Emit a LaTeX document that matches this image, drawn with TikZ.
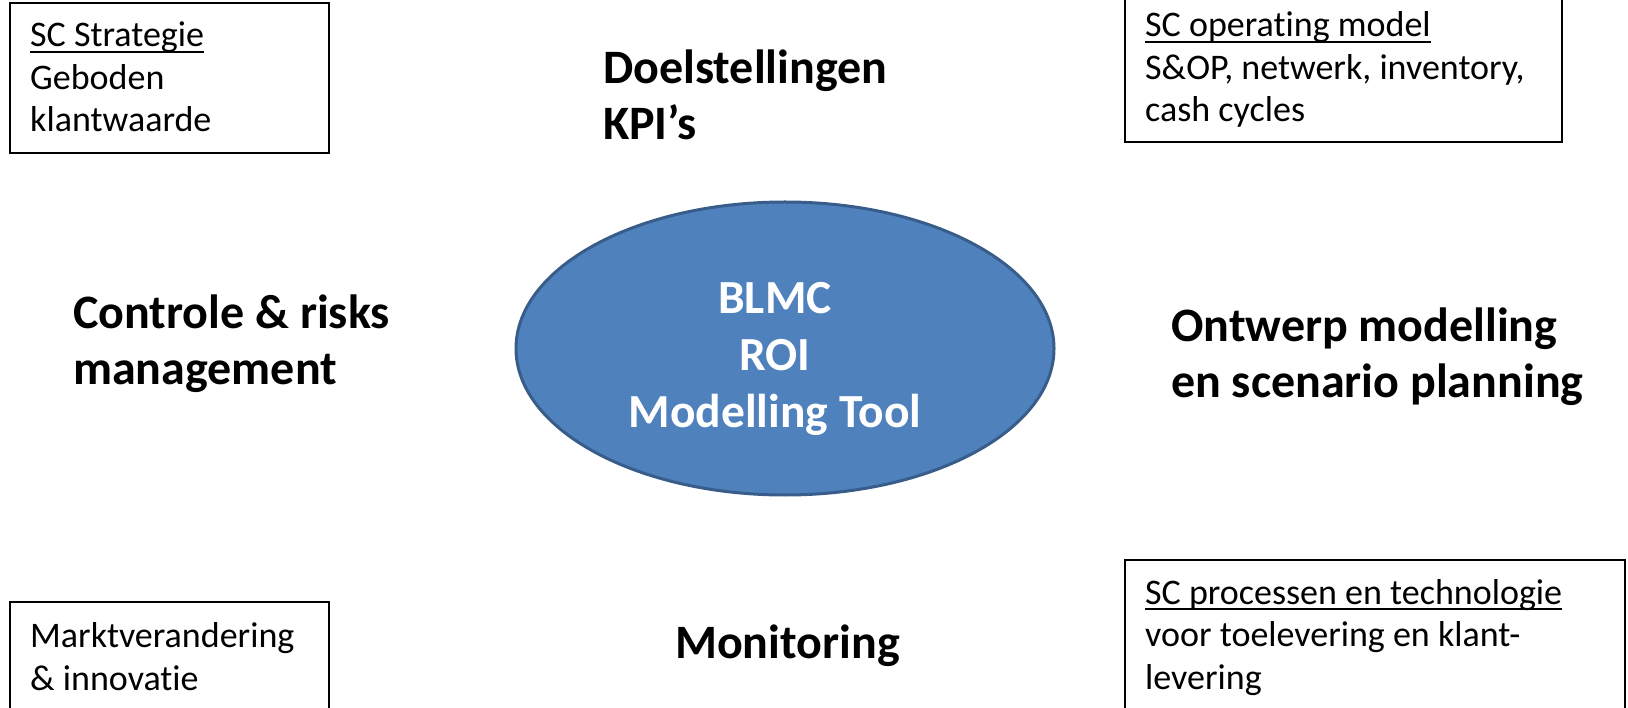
\documentclass[tikz,border=0pt]{standalone}
\usepackage{fontspec}
\setmainfont{Carlito}[Ligatures={NoCommon}]
\usetikzlibrary{shapes.geometric}
\definecolor{ellfill}{HTML}{4F81BD}
\definecolor{elldraw}{HTML}{385D8A}
\newcommand\myul[1]{\setbox0\hbox{#1}\rlap{\rule[-6pt]{\wd0}{1.8pt}}\box0}
\begin{document}
\begin{tikzpicture}[x=1pt,y=-1pt,
  boxframe/.style={draw=black, line width=1.5pt, fill=none, inner sep=0pt, outer sep=0pt, anchor=north west, rectangle},
  boxtext/.style={font=\fontsize{36}{42.5}\selectfont, align=left, anchor=base west, inner sep=0pt},
  labeltext/.style={font=\fontsize{48}{56}\selectfont\bfseries, align=left, anchor=base west, inner sep=0pt},
  centertext/.style={font=\fontsize{47.5}{57}\selectfont\bfseries, align=center, anchor=base, inner sep=0pt, text=white},
  hub/.style={ellipse, draw=elldraw, fill=ellfill, line width=3pt, minimum width=538pt, minimum height=293pt, inner sep=0pt}]
\useasboundingbox (0,0) rectangle (1628,708);
\begin{scope}
\clip (0,0) rectangle (1628,708);
% boxes
\node[boxframe, minimum width=319pt, minimum height=150pt] (tlbox) at (10,3) {};
\node[boxframe, minimum width=437pt, minimum height=147pt] (trbox) at (1125,-5) {};
\node[boxframe, minimum width=319pt, minimum height=130pt] (blbox) at (10,602) {};
\node[boxframe, minimum width=500pt, minimum height=170pt] (brbox) at (1125,560) {};
\end{scope}
% box texts (anchor = baseline of last line)
\node[boxtext] (tltext) at (30,132) {\myul{SC Strategie}\\Geboden\\klantwaarde};
\node[boxtext] (trtext) at (1145,122) {\myul{SC operating model}\\S\&OP, netwerk, inventory,\\cash cycles};
\node[boxtext] (bltext) at (30,690) {Marktverandering\\\& innovatie};
\node[boxtext] (brtext) at (1145,689) {\myul{SC processen en technologie}\\voor toelevering en klant-\\levering};
% ellipse
\node[hub] (hub) at (785,348.5) {};
\node[centertext] (hubtext) at (775,428) {BLMC\\ROI\\Modelling Tool};
% labels
\node[labeltext] (doel) at (603,140) {Doelstellingen\\KPI’s};
\node[labeltext] (controle) at (73,385) {Controle \& risks\\management};
\node[labeltext] (ontwerp) at (1171,398) {Ontwerp modelling\\en scenario planning};
\node[labeltext] (monitoring) at (675,658) {Monitoring};
\end{tikzpicture}
\end{document}
